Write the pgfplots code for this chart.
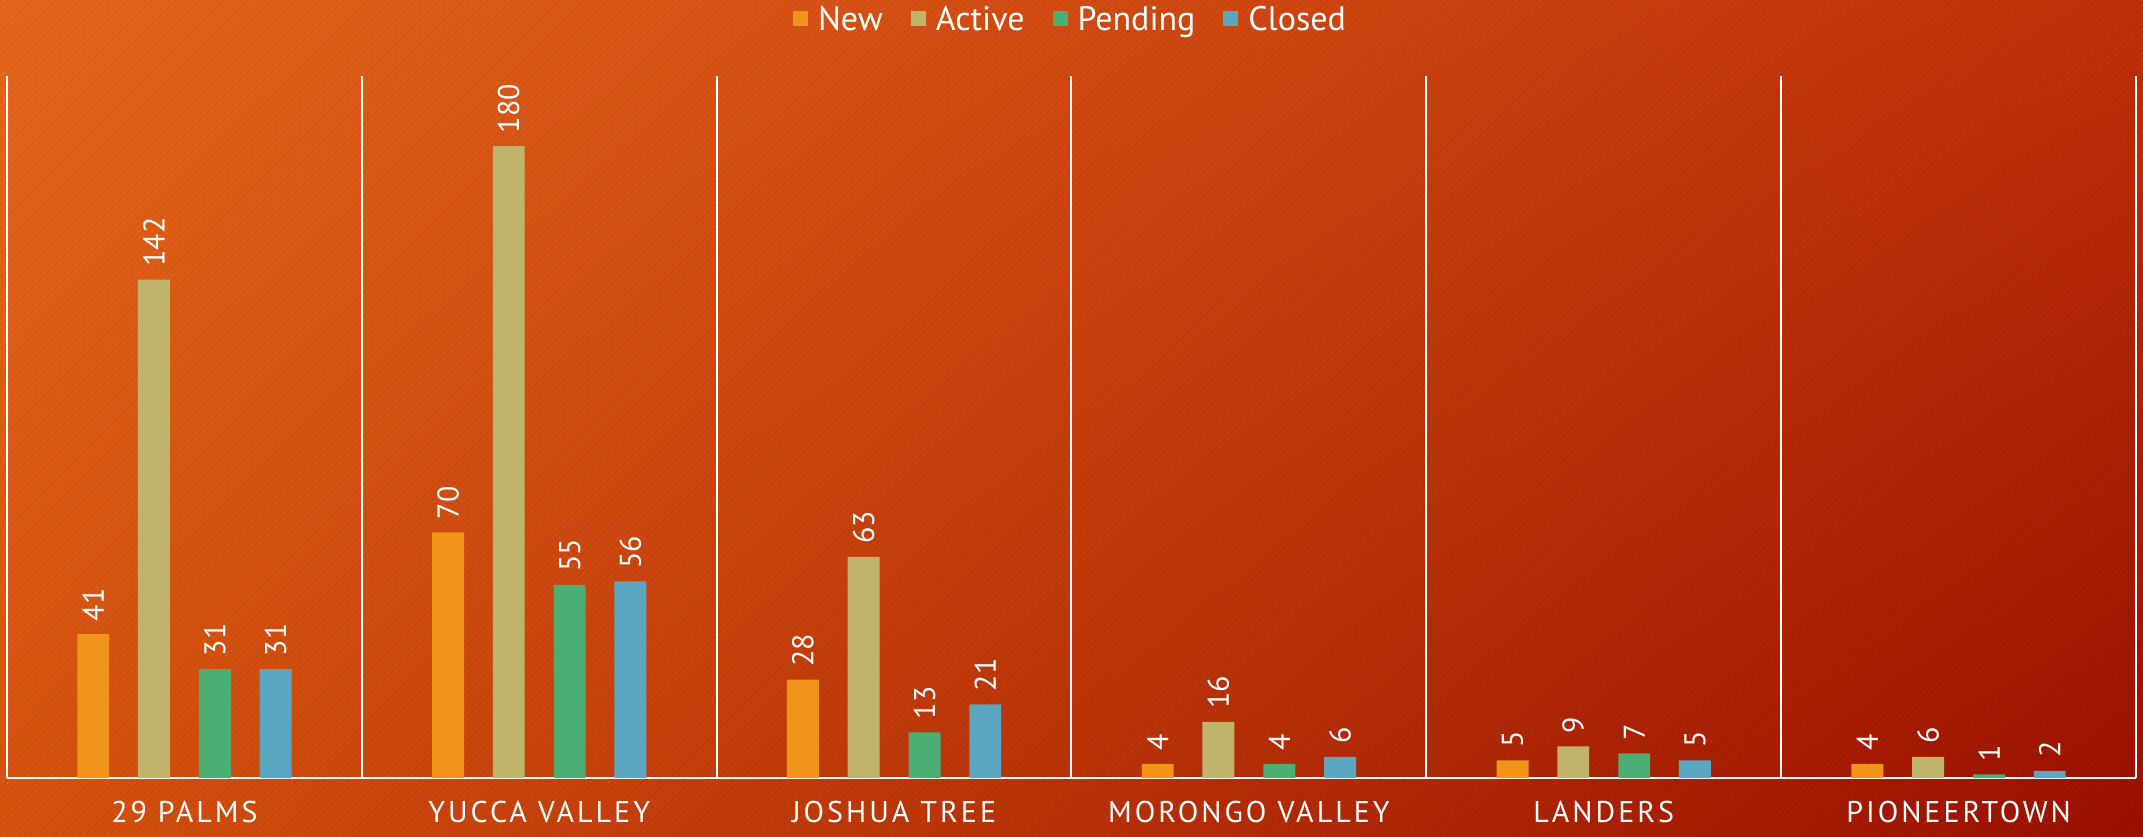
\documentclass[border=0pt]{standalone}
\usepackage{pgfplots}
\pgfplotsset{compat=1.18}
\usepackage{fontspec}
\setmainfont{PT Sans}
\usetikzlibrary{backgrounds,patterns,shadings}
\definecolor{bgTL}{HTML}{E4681C}
\definecolor{bgTR}{HTML}{C0300A}
\definecolor{bgBL}{HTML}{D5520F}
\definecolor{bgBR}{HTML}{9A1000}
\definecolor{cNew}{HTML}{F0941A}
\definecolor{cActive}{HTML}{C0B46C}
\definecolor{cPending}{HTML}{4BAE72}
\definecolor{cClosed}{HTML}{5BA6C0}
\pgfplotstableread{
x New Active Pending Closed
0 41 142 31 31
1 70 180 55 56
2 28 63 13 21
3 4 16 4 6
4 5 9 7 5
5 4 6 1 2
}\datatable
\begin{document}
\begin{tikzpicture}
\shade[upper left=bgTL, upper right=bgTR, lower left=bgBL, lower right=bgBR] (0,0) rectangle (1071.5pt,418pt);
\fill[pattern=north east lines, pattern color=black, opacity=0.06] (0,0) rectangle (1071.5pt,418pt);
\useasboundingbox (0,0) rectangle (1071.5pt,418pt);
\begin{axis}[
  at={(3.5pt,29pt)}, anchor=south west,
  scale only axis, width=1064.5pt, height=351pt,
  xmin=-0.5, xmax=5.5, ymin=0, ymax=200,
  axis x line*=bottom, axis y line=none,
  x axis line style={white, line width=1.2pt, -},
  xtick={0,1,2,3,4,5},
  xticklabels={29 PALMS, YUCCA VALLEY, JOSHUA TREE, MORONGO VALLEY, LANDERS, PIONEERTOWN},
  xticklabel style={white, font=\fontsize{15}{18}\selectfont\addfontfeature{LetterSpace=10}, yshift=-8pt},
  major tick length=0pt, minor tick length=0pt,
  minor xtick={-0.5,0.5,1.5,2.5,3.5,4.5,5.5},
  xminorgrids, minor grid style={white, line width=1pt},
  ytick=\empty,
  /pgf/number format/assume math mode=true,
  ybar, bar width=0.09,
  nodes near coords,
  every node near coord/.append style={white, rotate=90, anchor=west, font=\fontsize{15}{18}\selectfont, xshift=3pt},
  legend columns=4,
  legend style={at={(0.5,1.08)}, anchor=center, draw=none, fill=none, text=white,
    font=\fontsize{17}{20}\selectfont, /tikz/every even column/.append style={column sep=12pt},
    /tikz/every odd column/.append style={column sep=3pt}},
  legend image code/.code={\fill[#1] (0pt,-3.2pt) rectangle (7.5pt,4.3pt);},
  clip=false,
]
\addplot[fill=cNew, draw=none, bar shift=-0.257] table[x=x,y=New]{\datatable};
\addplot[fill=cActive, draw=none, bar shift=-0.086] table[x=x,y=Active]{\datatable};
\addplot[fill=cPending, draw=none, bar shift=0.086] table[x=x,y=Pending]{\datatable};
\addplot[fill=cClosed, draw=none, bar shift=0.257] table[x=x,y=Closed]{\datatable};
\legend{New, Active, Pending, Closed}
\end{axis}
\end{tikzpicture}
\end{document}
